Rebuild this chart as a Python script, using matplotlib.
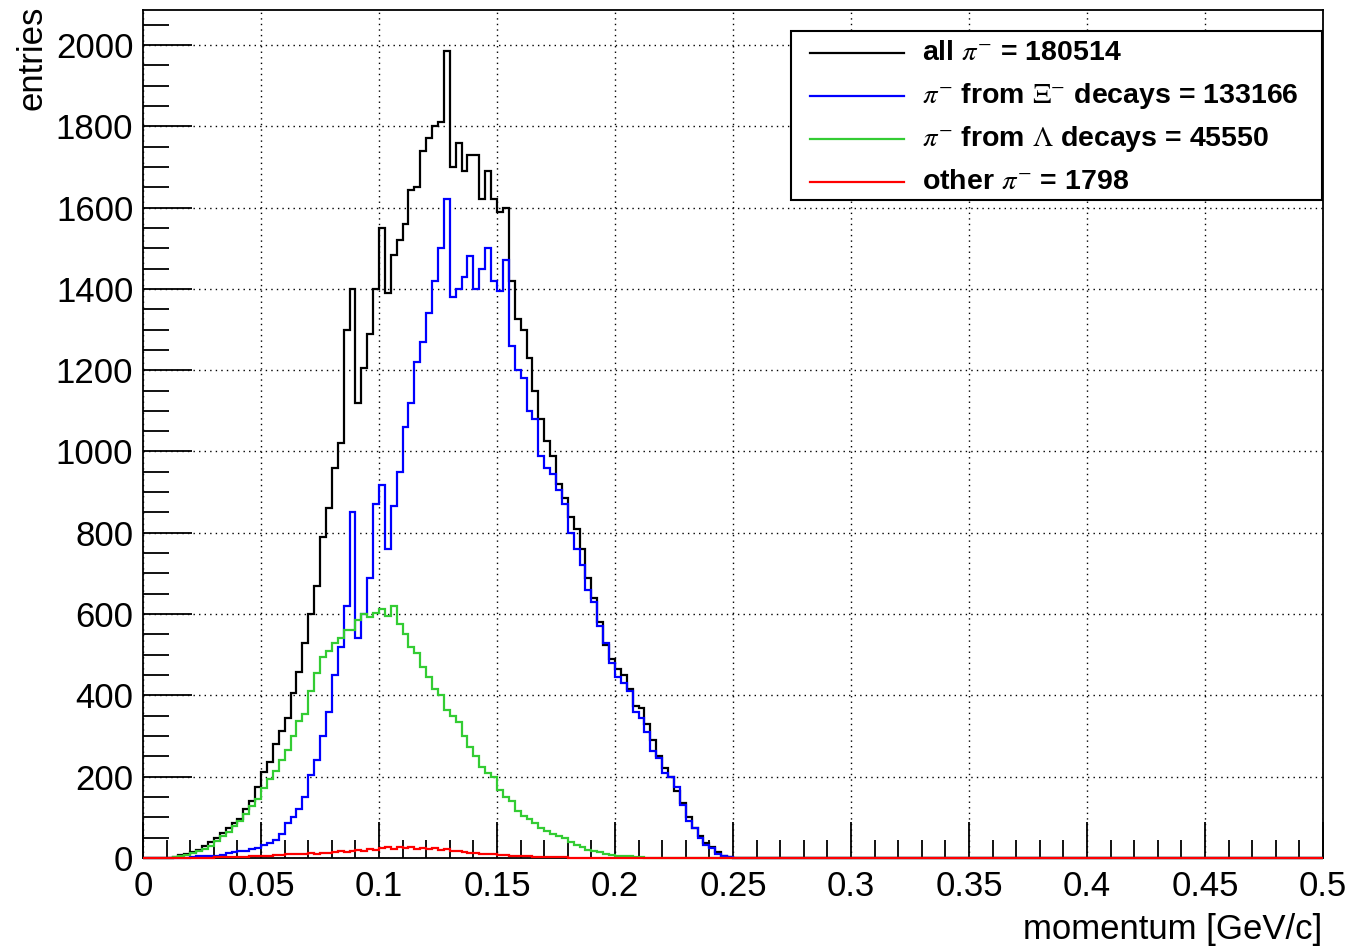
import numpy as np
import matplotlib
matplotlib.use('Agg')
import matplotlib.pyplot as plt
from matplotlib.lines import Line2D
from matplotlib.patches import Rectangle

plt.rcParams['font.family'] = 'Liberation Sans'
plt.rcParams['mathtext.fontset'] = 'stix'

bin_width = 0.0025
x_lo, x_hi = 0.0, 0.5
first_edge = 0.0125

all_pi = [3, 8, 10, 15, 20, 30, 40, 50,
          62, 75, 86, 95, 120, 140, 175, 212,
          235, 280, 312, 345, 405, 457, 530, 600,
          670, 790, 860, 960, 1020, 1300, 1400, 1120,
          1205, 1290, 1400, 1550, 1390, 1484, 1520, 1560,
          1642, 1650, 1740, 1770, 1800, 1810, 1985, 1700,
          1760, 1690, 1730, 1730, 1620, 1690, 1620, 1590,
          1600, 1420, 1326, 1300, 1230, 1150, 1080, 1025,
          990, 920, 885, 840, 810, 760, 690, 640,
          580, 525, 490, 465, 450, 415, 375, 370,
          330, 290, 250, 222, 200, 165, 135, 100,
          75, 55, 38, 27, 15, 6, 2]

xi_pi = [0, 0, 0, 3, 4, 5, 5, 6,
         8, 12, 14, 16, 18, 22, 25, 33,
         36, 45, 60, 85, 100, 120, 150, 205,
         240, 300, 360, 450, 520, 620, 850, 540,
         600, 690, 870, 918, 760, 866, 950, 1060,
         1120, 1220, 1270, 1340, 1420, 1500, 1620, 1380,
         1400, 1430, 1480, 1400, 1450, 1500, 1420, 1395,
         1470, 1260, 1200, 1180, 1100, 1080, 990, 960,
         945, 905, 870, 800, 760, 720, 660, 630,
         570, 530, 480, 445, 430, 410, 360, 345,
         309, 263, 245, 210, 200, 175, 130, 90,
         74, 50, 33, 25, 10, 4, 2]

lambda_pi = [3, 5, 7, 12, 16, 22, 30, 42,
             55, 65, 78, 90, 108, 128, 145, 172,
             195, 215, 240, 265, 300, 338, 355, 410,
             455, 495, 510, 530, 540, 560, 560, 585,
             600, 592, 603, 612, 595, 620, 575, 550,
             520, 505, 470, 445, 415, 400, 365, 350,
             335, 300, 274, 250, 225, 210, 200, 168,
             150, 140, 116, 103, 96, 85, 75, 66,
             60, 55, 48, 40, 33, 28, 20, 16,
             14, 9, 8, 6, 5, 4, 3, 2,
             1, 1]

other_pi = [0, 0, 1, 1, 1, 1, 1, 2,
            2, 2, 3, 3, 3, 4, 5, 6,
            6, 7, 7, 9, 10, 10, 11, 12,
            11, 13, 12, 15, 16, 14, 17, 19,
            18, 21, 19, 24, 26, 22, 27, 25,
            27, 23, 25, 22, 24, 20, 21, 18,
            16, 15, 13, 12, 11, 10, 9, 8,
            7, 6, 5, 5, 4, 3, 3, 3,
            2, 2, 2, 1, 1, 1, 1]

legend_labels = [r'all $\pi^{-}$ = 180514',
                 r'$\pi^{-}$ from $\Xi^{-}$ decays = 133166',
                 r'$\pi^{-}$ from $\Lambda$ decays = 45550',
                 r'other $\pi^{-}$ = 1798']
colors = ['black', '#0000ff', '#33cc33', '#ff0000']

x_ticks = [0, 0.05, 0.1, 0.15, 0.2, 0.25, 0.3, 0.35, 0.4, 0.45, 0.5]
x_tick_labels = ['0', '0.05', '0.1', '0.15', '0.2', '0.25', '0.3', '0.35', '0.4', '0.45', '0.5']
y_ticks = [0, 200, 400, 600, 800, 1000, 1200, 1400, 1600, 1800, 2000]

n_bins = int(round((x_hi - x_lo) / bin_width))
edges = np.linspace(x_lo, x_hi, n_bins + 1)


def fill_bins(vals):
    h = np.zeros(n_bins)
    i0 = int(round((first_edge - x_lo) / bin_width))
    h[i0:i0 + len(vals)] = vals
    return h


W, H = 1356, 949
fig = plt.figure(figsize=(W / 100, H / 100), dpi=100)
ax = fig.add_axes([143 / W, 1 - 858 / H, 1180 / W, 848 / H])

for vals, col in zip([all_pi, xi_pi, lambda_pi, other_pi], colors):
    ax.stairs(fill_bins(vals), edges, color=col, lw=1.6, baseline=None, clip_on=False, zorder=3)

ax.set_xlim(x_lo, x_hi)
ax.set_ylim(0, 2086)
ax.set_xticks(x_ticks)
ax.set_xticklabels(x_tick_labels)
ax.set_yticks(y_ticks)
ax.set_xticks(np.arange(0, 0.5001, 0.01), minor=True)
ax.set_yticks(np.arange(0, 2086, 50), minor=True)
ax.tick_params(axis='both', which='both', direction='in', width=1.3, labelsize=25)
ax.tick_params(axis='x', which='major', length=26, pad=9)
ax.tick_params(axis='x', which='minor', length=13)
ax.tick_params(axis='y', which='major', length=35, pad=7)
ax.tick_params(axis='y', which='minor', length=19)
ax.grid(True, which='major', color='black', linestyle=(0, (1, 3)), lw=1.0)
for sp in ax.spines.values():
    sp.set_linewidth(1.3)

fig.text(32 / W, 1 - 6 / H, 'entries', rotation=90, ha='center', va='top', fontsize=25)
fig.text(1322 / W, 1 - 930 / H, 'momentum [GeV/c]', ha='right', va='center', fontsize=25)

# legend box
fig.add_artist(Rectangle((791 / W, 1 - 200 / H), (1322 - 791) / W, (200 - 31) / H,
                         transform=fig.transFigure, facecolor='white', edgecolor='black',
                         lw=1.5, zorder=5))
row_y = [53, 96, 139, 182]
for yy, lab, col in zip(row_y, legend_labels, colors):
    fy = 1 - yy / H
    fig.add_artist(Line2D([810 / W, 904 / W], [fy, fy], transform=fig.transFigure,
                          color=col, lw=1.6, zorder=6))
    fig.text(922 / W, fy, lab, ha='left', va='center', fontsize=20.5, fontweight='bold', zorder=6)

fig.savefig('out.png', dpi=100)
